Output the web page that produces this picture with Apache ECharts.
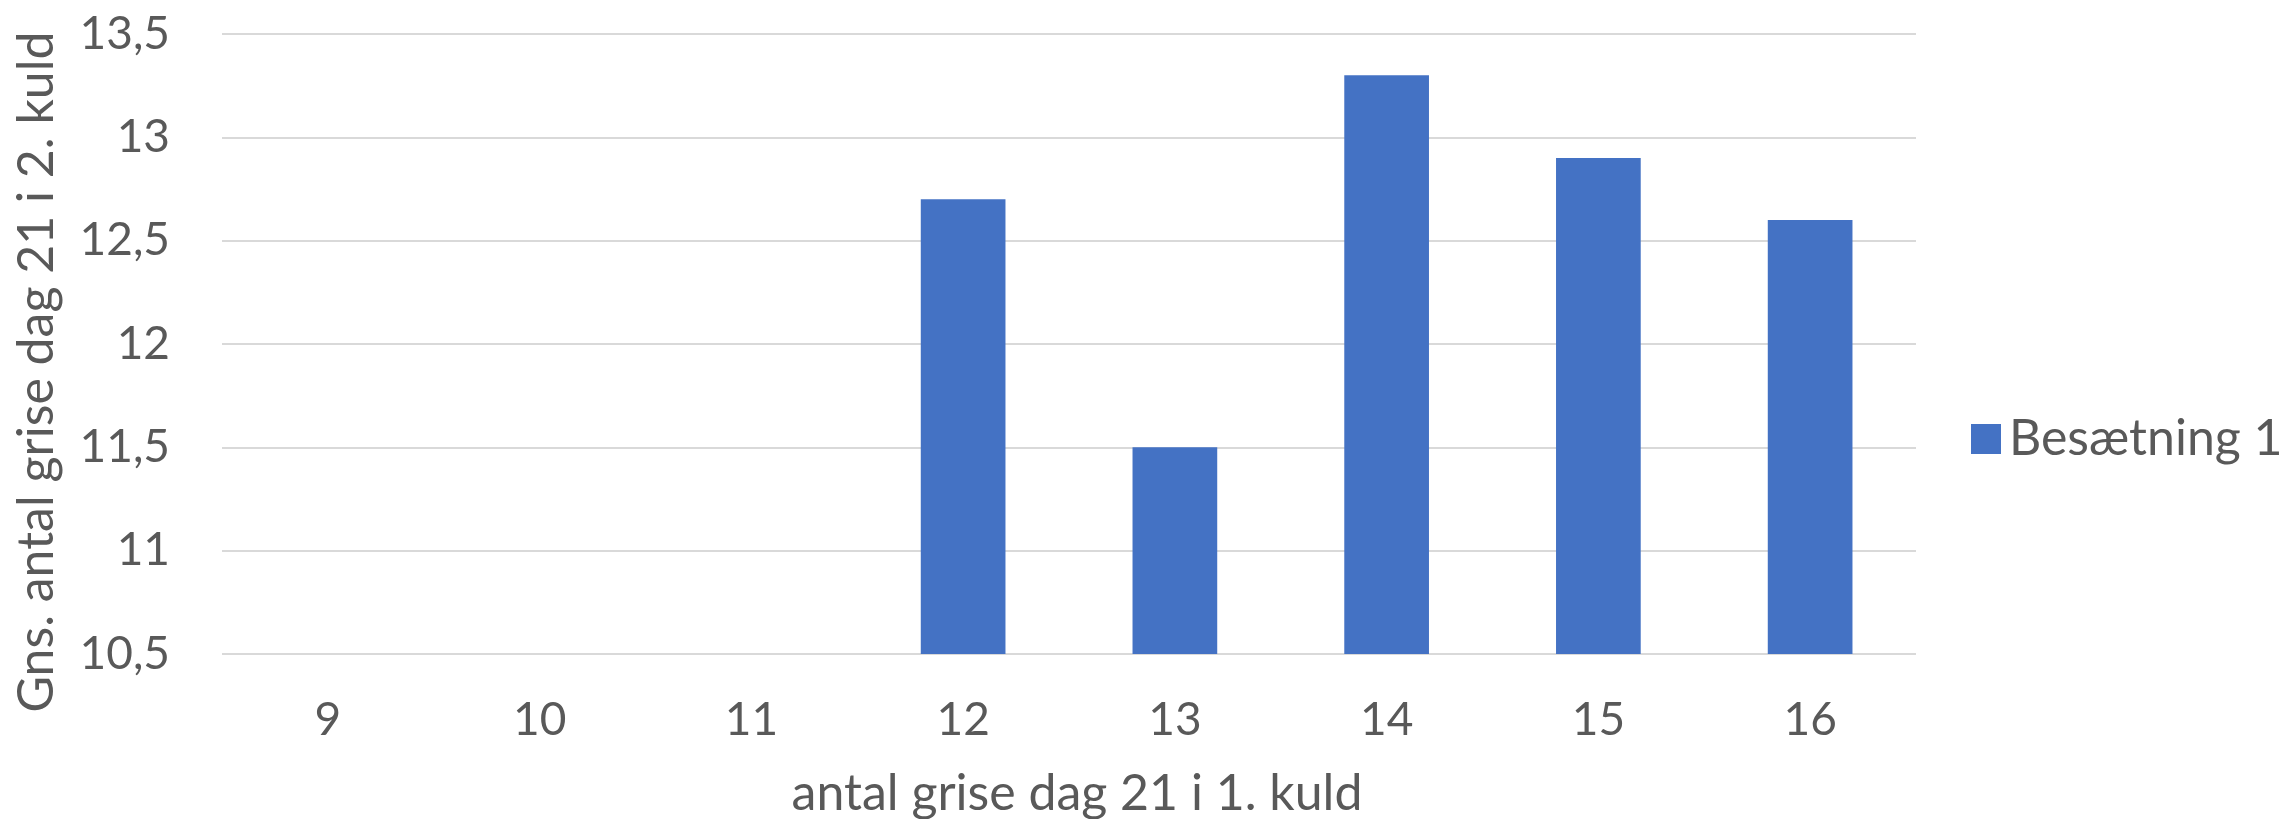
<!DOCTYPE html>
<html>
<head>
<meta charset="utf-8">
<title>Besætning 1</title>
<script src="https://cdn.jsdelivr.net/npm/echarts@6/dist/echarts.min.js"></script>
<style>
  html, body { margin: 0; padding: 0; background: #fff; }
  #main { width: 2282px; height: 819px; }
</style>
</head>
<body>
<div id="main"></div>
<script>
// antal grise dag 21 i 1. kuld
var categories = ['9', '10', '11', '12', '13', '14', '15', '16'];
// Gns. antal grise dag 21 i 2. kuld (tomme kategorier = ingen søjle)
var besaetning1 = [null, null, null, 12.7, 11.5, 13.3, 12.9, 12.6];
var seriesName = 'Besætning 1';
var xTitle = 'antal grise dag 21 i 1. kuld';
var yTitle = 'Gns. antal grise dag 21 i 2. kuld';

var font = 'Lato, "Open Sans", sans-serif';
var textColor = '#595959';

var myChart = echarts.init(document.getElementById('main'));
myChart.setOption({
    animation: false,
    grid: {
        left: 222,
        right: 366,
        top: 34,
        bottom: 165,
        containLabel: false,
        outerBoundsMode: 'none'
    },
    legend: {
        data: [seriesName],
        orient: 'vertical',
        left: 1966,
        top: 409,
        icon: 'rect',
        itemWidth: 30,
        itemHeight: 30,
        textStyle: {
            color: textColor,
            fontFamily: font,
            fontSize: 50,
            lineHeight: 30,
            padding: [0, 0, 0, 3]
        }
    },
    xAxis: {
        type: 'category',
        data: categories,
        axisLine: { show: false },
        axisTick: { show: false },
        axisLabel: {
            color: textColor,
            fontFamily: font,
            fontSize: 46,
            margin: 43
        }
    },
    yAxis: {
        type: 'value',
        min: 10.5,
        max: 13.5,
        interval: 0.5,
        axisLine: { show: false },
        axisTick: { show: false },
        splitLine: {
            lineStyle: { color: '#d9d9d9', width: 2 }
        },
        axisLabel: {
            color: textColor,
            fontFamily: font,
            fontSize: 46,
            margin: 52,
            formatter: function (v) {
                return String(v).replace('.', ',');
            }
        }
    },
    graphic: [
        {
            type: 'text',
            x: 37,
            y: 372,
            rotation: Math.PI / 2,
            style: {
                text: yTitle,
                fill: textColor,
                font: '50px ' + font,
                textAlign: 'center',
                textVerticalAlign: 'middle'
            }
        },
        {
            type: 'text',
            x: 1077,
            y: 794,
            style: {
                text: xTitle,
                fill: textColor,
                font: '50px ' + font,
                textAlign: 'center',
                textVerticalAlign: 'middle'
            }
        }
    ],
    series: [
        {
            name: seriesName,
            type: 'bar',
            data: besaetning1,
            barWidth: '40%',
            itemStyle: { color: '#4472c4' }
        }
    ]
});
</script>
</body>
</html>
